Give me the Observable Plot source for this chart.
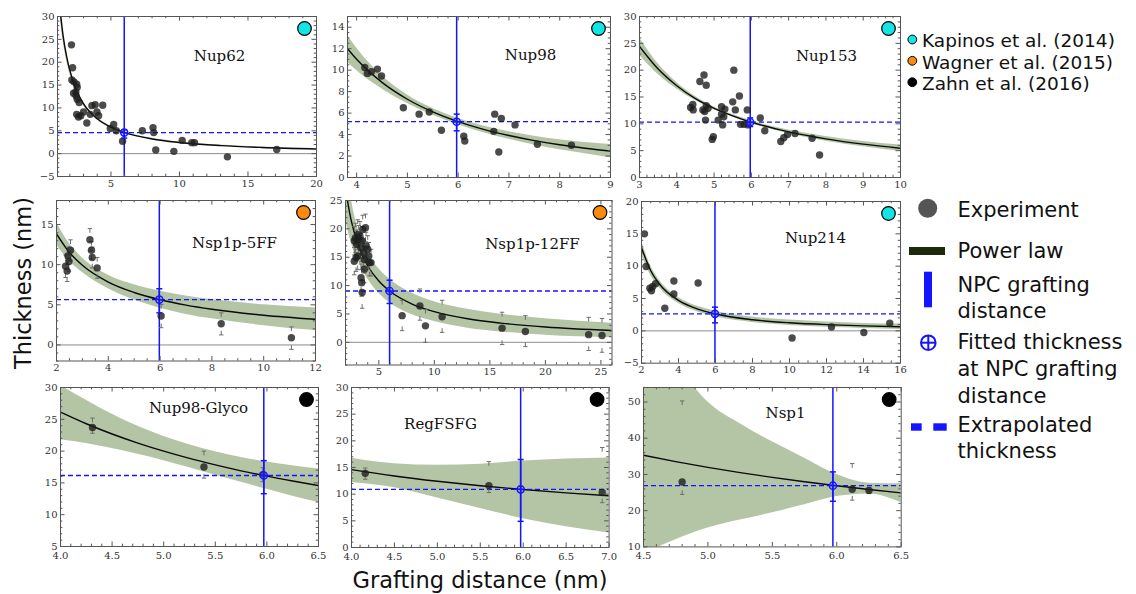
<!DOCTYPE html>
<html><head><meta charset="utf-8">
<script src="https://cdn.jsdelivr.net/npm/d3@7"></script>
<script src="https://cdn.jsdelivr.net/npm/@observablehq/plot@0.6"></script>
<style>
body{margin:0;background:#fff;}
#fig{position:relative;width:1136px;height:594px;overflow:hidden;background:#fff;}
.panel{position:absolute;}
</style></head><body><div id="fig"></div>
<script>
// ---------------- DATA ----------------
const titles = ["Nup62","Nup98","Nup153","Nsp1p-5FF","Nsp1p-12FF","Nup214","Nup98-Glyco","RegFSFG","Nsp1"];
const sources = ["Kapinos et al. (2014)","Wagner et al. (2015)","Zahn et al. (2016)"];
const sourceColors = ["#14e4e4","#fb8a10","#000000"];
const panelSource = [0,0,0,1,1,0,2,2,2];
const npcDistance = 5.97;
const fittedThickness = [4.6,5.2,10.3,5.65,9.05,2.63,16.16,10.9,26.9];
const fittedLo = [3.4,4.35,9.5,4.0,6.85,1.24,13.3,4.9,22.6];
const fittedHi = [5.2,5.9,11.1,7.0,10.95,3.66,18.5,16.5,30.7];

const xDomains = [[1.1,20],[3.82,9],[3,10],[2,12],[2,26],[2,16],[4,6.5],[4,7],[4.5,6.5]];
const yDomains = [[-5,30],[0,15],[0,30],[-2,18],[-4,25],[-5,20],[5,30],[0,30],[10,54]];
const xTicks = [[5,10,15,20],[4,5,6,7,8,9],[3,4,5,6,7,8,9,10],[2,4,6,8,10,12],[5,10,15,20,25],[2,4,6,8,10,12,14,16],[4,4.5,5,5.5,6,6.5],[4,4.5,5,5.5,6,6.5,7],[4.5,5,5.5,6,6.5]];
const yTicks = [[-5,0,5,10,15,20,25,30],[0,2,4,6,8,10,12,14],[0,5,10,15,20,25,30],[0,5,10,15],[0,5,10,15,20,25],[-5,0,5,10,15,20],[5,10,15,20,25,30],[0,5,10,15,20,25,30],[10,20,30,40,50]];

// Power-law fits and confidence bands
const nup62FitX = [1.3,1.5,1.75,2,2.5,3,4,5,6,8,10,13,16,20];
const nup62Fit  = [31.1,26.0,21.5,18.2,13.7,10.9,7.64,5.78,4.60,3.21,2.43,1.75,1.35,1.02];
const nup62Hi   = [32.6,27.2,22.4,18.9,14.2,11.3,7.9,5.95,4.75,3.35,2.55,1.87,1.46,1.13];
const nup62Lo   = [29.6,24.8,20.6,17.5,13.2,10.5,7.38,5.61,4.45,3.07,2.31,1.63,1.24,0.91];

const nup98FitX = [3.82,4,4.5,5,5.5,6,6.5,7,7.5,8,8.5,9];
const nup98Fit  = [11.99,11.01,8.86,7.29,6.11,5.2,4.48,3.91,3.44,3.05,2.73,2.46];
const nup98Hi   = [13.25,12.06,9.48,7.69,6.42,5.49,4.79,4.26,3.85,3.51,3.25,3.08];
const nup98Lo   = [10.73,9.96,8.24,6.89,5.80,4.91,4.17,3.56,3.03,2.59,2.21,1.85];

const nup153FitX = [3,3.5,4,4.5,5,5.5,6,7,8,9,10];
const nup153Fit  = [24.4,20.2,17.1,14.7,12.9,11.5,10.3,8.50,7.20,6.21,5.45];
const nup153Hi   = [26.0,21.2,17.7,15.07,13.16,11.73,10.56,8.84,7.63,6.71,6.05];
const nup153Lo   = [22.8,19.2,16.5,14.33,12.64,11.27,10.04,8.16,6.77,5.71,4.85];

const nsp5FitX = [2,2.5,3,4,5,6,7,8,10,12];
const nsp5Fit  = [13.84,11.53,9.93,7.84,6.54,5.63,4.96,4.45,3.70,3.19];
const nsp5Hi   = [15.24,12.63,10.83,8.69,7.49,6.68,6.11,5.65,5.0,4.59];
const nsp5Lo   = [12.44,10.43,9.03,6.99,5.59,4.58,3.81,3.25,2.4,1.79];

const nsp12FitX = [2,2.5,3,3.5,4,5,6,8,10,13,16,20,26];
const nsp12Fit  = [27,21.6,18,15.4,13.5,10.8,9.0,6.75,5.4,4.15,3.38,2.7,2.08];
const nsp12Hi   = [32.4,25.5,20.9,17.9,15.8,12.96,11.07,8.64,7.13,5.81,4.93,4.16,3.37];
const nsp12Lo   = [21.6,17.7,15.1,12.9,11.2,8.64,6.93,4.86,3.67,2.49,1.83,1.24,0.79];

const nup214FitX = [2,2.5,3,4,5,6,8,10,12,14,16];
const nup214Fit  = [12.84,9.29,7.13,4.70,3.40,2.61,1.72,1.245,0.956,0.764,0.63];
const nup214Hi   = [13.93,10.03,7.70,5.17,3.84,3.05,2.15,1.66,1.36,1.15,1.04];
const nup214Lo   = [11.75,8.55,6.56,4.23,2.96,2.17,1.29,0.83,0.55,0.38,0.22];

const glycoFitX = [4,4.25,4.5,4.75,5,5.25,5.5,5.75,6,6.25,6.5];
const glycoFit  = [26.13,24.30,22.69,21.26,19.99,18.85,17.83,16.90,16.06,15.30,14.59];
const glycoHi   = [30.3,28.0,25.8,23.9,22.3,21.0,19.9,19.0,18.3,17.7,17.2];
const glycoLo   = [21.8,21.2,20.4,19.5,18.5,17.4,16.2,15.1,14.0,12.9,11.9];

const regFitX = [4,4.5,5,5.5,6,6.5,7];
const regFit  = [14.60,13.40,12.41,11.57,10.86,10.24,9.70];
const regHi   = [16.75,15.7,15.4,15.6,16.2,16.6,16.8];
const regLo   = [12.2,11.2,9.3,7.3,5.4,3.9,2.7];

const nsp1FitX = [4.5,4.75,5,5.25,5.5,5.75,6,6.25,6.5];
const nsp1Fit  = [35.3,33.55,31.95,30.51,29.19,27.98,26.87,25.85,24.90];
const nsp1Hi   = [75,61,50,44,39,34.5,30,27.6,27.4];
const nsp1Lo   = [8,12,15.2,17.4,19.4,21.6,23.9,24.6,22.2];

// Experimental points
const nup62X = [2.12,2.2,2.15,2.3,2.5,2.27,2.44,2.54,2.46,2.54,2.68,2.5,2.63,2.8,3.0,3.24,3.49,3.61,3.85,3.98,4.1,4.4,4.95,5.2,5.39,5.85,7.29,8.07,8.12,8.27,10.2,10.9,11.1,9.59,13.5,17.1];
const nup62Y = [23.8,18.8,16.1,15.7,15.2,13.2,13.5,14.5,12.6,11.9,11.2,8.6,8.0,8.3,9.1,6.7,8.6,10.5,10.7,9.1,8.3,10.6,5.5,6.4,5.0,2.7,5.0,5.7,4.6,0.8,2.9,2.4,2.4,0.5,-0.7,0.9];

const nup98X = [4.16,4.21,4.29,4.41,4.49,4.92,5.23,5.43,5.67,6.11,6.13,6.8,6.70,6.72,6.85,7.12,7.56,8.23];
const nup98Y = [10.25,9.7,9.85,10.1,9.45,6.5,5.9,6.1,4.4,3.85,3.4,2.37,4.3,5.9,5.5,4.9,3.1,3.0];

const nup153X = [4.37,4.43,4.44,4.62,4.73,4.79,4.70,4.75,4.79,4.84,4.77,4.95,4.98,5.11,5.20,5.29,5.2,5.26,5.23,5.5,5.53,5.57,5.68,5.71,5.8,5.89,5.91,6.24,6.36,6.79,6.87,6.97,7.17,7.63,7.83];
const nup153Y = [13.05,13.6,12.6,17.9,19.1,17.2,12.6,12.3,13.4,12.9,10.7,7.1,7.6,10.7,13.2,12.75,11.8,11.3,9.8,14.1,20.0,12.6,15.2,9.9,9.9,12.6,9.8,11.1,8.7,6.7,7.4,8.0,8.2,7.3,4.2];

const nsp5X  = [2.35,2.41,2.44,2.48,2.54,3.29,3.35,3.38,3.57,6.04,8.36,11.07];
const nsp5Y  = [9.8,9.2,11.1,10.4,11.8,13.1,11.8,10.9,9.6,3.6,2.65,0.9];
const nsp5ELo = [8.4,7.9,10.0,9.2,10.5,11.7,10.7,9.6,8.3,2.15,1.25,-0.55];
const nsp5EHi = [11.2,10.5,12.2,11.6,13.1,14.5,12.9,12.2,10.9,5.05,4.0,2.25];

const nsp12X = [2.8,2.89,3.0,3.1,3.19,3.3,3.4,3.49,3.55,3.64,2.95,2.79,3.1,3.7,3.8,3.85,4.0,4.1,4.15,4.3,3.7,3.4,3.46,3.5,7.1,8.7,9.2,10.7,16.1,18.2,23.9,25.1];
const nsp12Y = [17.9,18.4,17.3,19.0,18.15,18.7,16.7,17.9,19.9,15.8,14.9,14.3,15.2,14.6,20.2,17.0,16.4,15.2,14.05,14.05,12.9,11.4,10.5,8.8,4.7,6.4,2.9,4.5,2.5,1.9,1.35,1.2];
const nsp12ELo = [15.4,15.8,14.8,16.4,15.7,16.1,14.2,15.4,17.4,13.4,12.5,11.9,12.8,12.2,17.8,14.6,14.0,12.8,11.7,11.7,10.5,9.0,8.1,6.0,2.05,3.9,0.0,1.75,-0.4,-0.75,-1.45,-1.75];
const nsp12EHi = [20.4,21.0,19.8,21.6,20.6,21.3,19.2,20.4,22.4,18.2,17.3,16.7,17.6,17.0,22.6,19.4,18.8,17.6,16.4,16.4,15.3,13.8,12.9,10.9,7.4,9.4,5.8,7.4,5.3,4.7,4.4,4.2];

const nup214X = [2.16,2.25,2.45,2.54,2.61,2.76,3.26,3.75,3.75,5.06,10.14,12.27,14.02,15.42];
const nup214Y = [15.0,9.95,6.6,6.2,6.85,7.3,3.5,7.7,5.7,7.4,-1.1,0.6,-0.25,1.2];

const glycoX = [4.31,5.39,5.96];
const glycoY = [23.7,17.5,16.3];
const glycoELo = [22.8,15.75,15.2];
const glycoEHi = [25.2,20.0,17.4];

const regX = [4.16,5.6,6.92];
const regY = [13.9,11.6,10.3];
const regELo = [12.8,10.3,8.4];
const regEHi = [14.9,16.1,18.75];

const nsp1X = [4.8,6.12,6.25];
const nsp1Y = [27.9,25.9,25.6];
const nsp1ELo = [24.5,22.9,24.7];
const nsp1EHi = [50.3,33.0,26.4];

const legendItems = [["Experiment"],["Power law"],["NPC grafting","distance"],["Fitted thickness","at NPC grafting","distance"],["Extrapolated","thickness"]];
const xLabel = "Grafting distance (nm)";
const yLabel = "Thickness (nm)";

// ---------------- LAYOUT ----------------
const frames = [
 [57,16,316,176],[347,16,610,177],[639,16,900,177],
 [56,199.5,315,360],[345,199.5,611.5,364],[641,201,900,362.7],
 [60,386.7,318,545.7],[350.7,386.7,608.3,546.7],[643.3,387.3,901,546.7]];
const titleOffsets = [[162,40],[183,39],[187,40],[178,43],[187,43.5],[174,37],[138,20.3],[89,37],[142,25.7]];

const fits = [
 [nup62FitX,nup62Fit,nup62Lo,nup62Hi],[nup98FitX,nup98Fit,nup98Lo,nup98Hi],[nup153FitX,nup153Fit,nup153Lo,nup153Hi],
 [nsp5FitX,nsp5Fit,nsp5Lo,nsp5Hi],[nsp12FitX,nsp12Fit,nsp12Lo,nsp12Hi],[nup214FitX,nup214Fit,nup214Lo,nup214Hi],
 [glycoFitX,glycoFit,glycoLo,glycoHi],[regFitX,regFit,regLo,regHi],[nsp1FitX,nsp1Fit,nsp1Lo,nsp1Hi]];
const pts = [
 [nup62X,nup62Y],[nup98X,nup98Y],[nup153X,nup153Y],
 [nsp5X,nsp5Y,nsp5ELo,nsp5EHi],[nsp12X,nsp12Y,nsp12ELo,nsp12EHi],[nup214X,nup214Y],
 [glycoX,glycoY,glycoELo,glycoEHi],[regX,regY,regELo,regEHi],[nsp1X,nsp1Y,nsp1ELo,nsp1EHi]];

const blue = "#1414ff";
const bandFill = "#b4c5a5";
const capSym = {draw(ctx, size){ const w = Math.sqrt(size/Math.PI); ctx.moveTo(-w,0); ctx.lineTo(w,0); }};
const capTop = {draw(ctx, size){ const w = Math.sqrt(size/Math.PI); ctx.moveTo(-w,0); ctx.lineTo(w,0); ctx.moveTo(0,0); ctx.lineTo(0,1.9*w); }};
const capBottom = {draw(ctx, size){ const w = Math.sqrt(size/Math.PI); ctx.moveTo(-w,0); ctx.lineTo(w,0); ctx.moveTo(0,0); ctx.lineTo(0,-1.9*w); }};
const plusCircle = {draw(ctx, size){ const r = Math.sqrt(size/Math.PI); ctx.moveTo(r,0); ctx.arc(0,0,r,0,2*Math.PI); ctx.moveTo(-r,0); ctx.lineTo(r,0); ctx.moveTo(0,-r); ctx.lineTo(0,r); }};

function minorTicks(domain, major){
  const step = major[1]-major[0];
  const sub = Math.abs(step-2) < 1e-9 ? step/4 : step/5;
  const start = Math.ceil(domain[0]/sub - 1e-9)*sub;
  const out = [];
  for (let v = start; v <= domain[1]+1e-9; v += sub){
    if (!major.some(m => Math.abs(m-v) < 1e-6)) out.push(+v.toFixed(6));
  }
  return out;
}

const fig = document.getElementById("fig");
const mL = 34, mR = 4, mT = 4, mB = 20;

titles.forEach((title, i) => {
  const [l,t,r,b] = frames[i];
  const W = r-l, H = b-t;
  const [fx,fy,flo,fhi] = fits[i];
  const fitRows = fx.map((x,j)=>({x, y: fy[j], lo: flo[j], hi: fhi[j]}));
  const [px,py,plo,phi] = pts[i];
  const ptRows = px.map((x,j)=>({x, y: py[j], lo: plo ? plo[j] : null, hi: phi ? phi[j] : null}));
  const fitted = [{x: npcDistance, y: fittedThickness[i], lo: fittedLo[i], hi: fittedHi[i]}];
  const bottomRow = i >= 6;
  const fmt = bottomRow ? d3.format(".1f") : d3.format("d");
  const xMinor = minorTicks(xDomains[i], xTicks[i]);
  const yMinor = minorTicks(yDomains[i], yTicks[i]);
  const tickStroke = "#555";
  const marks = [
    Plot.areaY(fitRows, {x:"x", y1:"lo", y2:"hi", fill: bandFill, curve:"monotone-x", clip:true}),
  ];
  if (yDomains[i][0] < 0) marks.push(Plot.ruleY([0], {stroke:"#8c8c8c", strokeWidth:1}));
  marks.push(
    Plot.line(fitRows, {x:"x", y:"y", stroke:"#0a0a0a", strokeWidth:1.4, curve:"monotone-x", clip:true}),
    Plot.ruleY([fittedThickness[i]], {stroke: blue, strokeWidth:1.3, strokeDasharray:"5,3"}),
    Plot.ruleX([npcDistance], {stroke: blue, strokeWidth:1.5})
  );
  if (plo) {
    marks.push(
      Plot.dot(ptRows, {x:"x", y:"lo", symbol: capBottom, r:2.2, stroke:"#6e6e6e", strokeWidth:1, clip:true}),
      Plot.dot(ptRows, {x:"x", y:"hi", symbol: capTop, r:2.2, stroke:"#6e6e6e", strokeWidth:1, clip:true})
    );
  }
  marks.push(
    Plot.dot(ptRows, {x:"x", y:"y", r:3.7, fill:"#1e1e1e", fillOpacity:0.8}),
    Plot.ruleX(fitted, {x:"x", y1:"lo", y2:"hi", stroke: blue, strokeWidth:1.5}),
    Plot.dot(fitted, {x:"x", y:"lo", symbol: capSym, r:3, stroke: blue, strokeWidth:1.5}),
    Plot.dot(fitted, {x:"x", y:"hi", symbol: capSym, r:3, stroke: blue, strokeWidth:1.5}),
    Plot.dot(fitted, {x:"x", y:"y", symbol: plusCircle, r:3.6, stroke: blue, strokeWidth:1.4, fill:"#7d7dff", fillOpacity:0.35}),
    Plot.frame({stroke:"#555", strokeWidth:1}),
    Plot.tickX(xTicks[i], {x: d=>d, insetTop: H-4.5, stroke: tickStroke}),
    Plot.tickX(xTicks[i], {x: d=>d, insetBottom: H-4.5, stroke: tickStroke}),
    Plot.tickY(yTicks[i], {y: d=>d, insetRight: W-4.5, stroke: tickStroke}),
    Plot.tickY(yTicks[i], {y: d=>d, insetLeft: W-4.5, stroke: tickStroke}),
    Plot.tickX(xMinor, {x: d=>d, insetTop: H-2.3, stroke: tickStroke}),
    Plot.tickX(xMinor, {x: d=>d, insetBottom: H-2.3, stroke: tickStroke}),
    Plot.tickY(yMinor, {y: d=>d, insetRight: W-2.3, stroke: tickStroke}),
    Plot.tickY(yMinor, {y: d=>d, insetLeft: W-2.3, stroke: tickStroke}),
    Plot.dot([sources[panelSource[i]]], {frameAnchor:"top-right", dx:-12, dy:12, r:6.8, fill: sourceColors[panelSource[i]], stroke:"#000", strokeWidth:1.2}),
    Plot.text([title], {frameAnchor:"top-left", dx: titleOffsets[i][0], dy: titleOffsets[i][1], text: d=>d, textAnchor:"middle", lineAnchor:"middle", fontSize:15, fontFamily:"DejaVu Serif", fill:"#111"})
  );
  const svg = Plot.plot({
    width: W+mL+mR, height: H+mT+mB,
    marginLeft: mL, marginRight: mR, marginTop: mT, marginBottom: mB,
    x: {domain: xDomains[i], ticks: xTicks[i], tickFormat: fmt, tickSize: 0, tickPadding: bottomRow ? 5 : 3, label: null},
    y: {domain: yDomains[i], ticks: yTicks[i], tickSize: 0, tickPadding: 3, label: null},
    style: {fontFamily:"DejaVu Serif", fontSize:"10px", color:"#333", background:"transparent", overflow:"visible"},
    marks
  });
  svg.classList.add("panel");
  svg.style.left = (l - mL) + "px";
  svg.style.top = (t - mT) + "px";
  fig.appendChild(svg);
});

// ---------------- Overlay: axis titles and legends ----------------
const ov = d3.select("#fig").append("svg")
  .attr("width",1136).attr("height",594)
  .style("position","absolute").style("left","0px").style("top","0px");

ov.append("text").text(yLabel)
  .attr("transform","translate(23,283) rotate(-90)")
  .attr("text-anchor","middle").attr("dominant-baseline","central")
  .attr("font-family","DejaVu Sans").attr("font-size",22.5).attr("fill","#111");
ov.append("text").text(xLabel)
  .attr("x",480).attr("y",580)
  .attr("text-anchor","middle").attr("dominant-baseline","central")
  .attr("font-family","DejaVu Sans").attr("font-size",22.5).attr("fill","#111");

// source legend
const srcY = [47.3, 68.6, 90];
sources.forEach((s,k) => {
  ov.append("circle").attr("cx",912.3).attr("cy",srcY[k]-7.8).attr("r",4.4)
    .attr("fill",sourceColors[k]).attr("stroke","#000").attr("stroke-width",1);
  ov.append("text").text(s).attr("x",922).attr("y",srcY[k])
    .attr("font-family","DejaVu Sans").attr("font-size",18.5).attr("fill","#111");
});

// symbol legend
const legX = 957.5;
const legBase = [[217.3],[258.3],[291.7,318.3],[349.3,376,402.7],[431.7,458.3]];
legendItems.forEach((lines,k) => {
  lines.forEach((ln,m) => {
    ov.append("text").text(ln).attr("x",legX).attr("y",legBase[k][m])
      .attr("font-family","DejaVu Sans").attr("font-size",21).attr("fill","#111");
  });
});
ov.append("circle").attr("cx",927.7).attr("cy",208.3).attr("r",9.5).attr("fill","#555");
ov.append("rect").attr("x",909).attr("y",247).attr("width",36).attr("height",8).attr("fill","#1b2a0b");
ov.append("rect").attr("x",924).attr("y",271.7).attr("width",8).attr("height",35.6).attr("fill",blue);
ov.append("circle").attr("cx",928.3).attr("cy",342.7).attr("r",7.3).attr("fill","none").attr("stroke",blue).attr("stroke-width",2);
ov.append("line").attr("x1",921).attr("x2",935.6).attr("y1",342.7).attr("y2",342.7).attr("stroke",blue).attr("stroke-width",2);
ov.append("line").attr("x1",928.3).attr("x2",928.3).attr("y1",335.4).attr("y2",350).attr("stroke",blue).attr("stroke-width",2);
ov.append("rect").attr("x",911).attr("y",423.3).attr("width",10.7).attr("height",7.4).attr("fill",blue);
ov.append("rect").attr("x",933.3).attr("y",423.3).attr("width",13.4).attr("height",7.4).attr("fill",blue);
</script></body></html>
